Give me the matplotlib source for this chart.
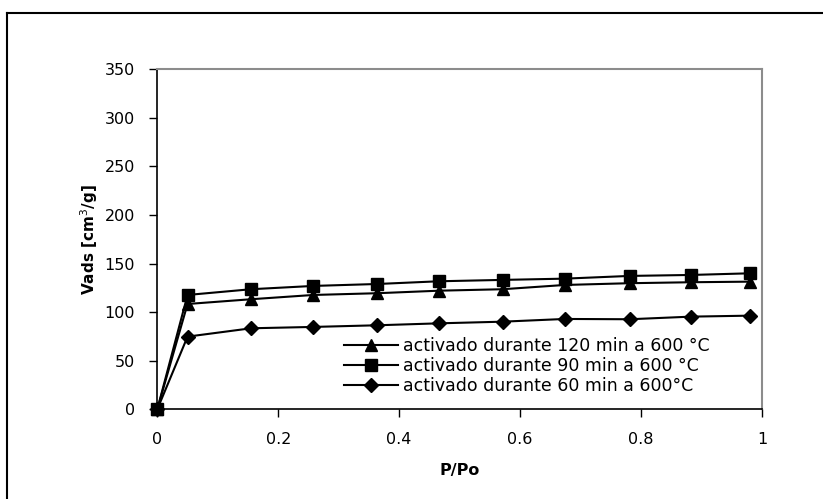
import matplotlib
matplotlib.use("Agg")
import matplotlib.pyplot as plt
from matplotlib.lines import Line2D

plt.rcParams['font.family'] = ['DejaVu Sans']

# Data
p_po = [0, 0.05, 0.155, 0.258, 0.364, 0.466, 0.571, 0.674, 0.781, 0.883, 0.98]
v_120 = [0, 108.4, 113.3, 117.7, 119.5, 122.1, 123.6, 128.0, 129.8, 130.8, 131.4]
v_90 = [0, 117.7, 123.6, 127.0, 129.0, 131.8, 133.2, 134.5, 137.3, 138.3, 140.0]
v_60 = [0, 74.8, 83.4, 84.8, 86.5, 88.5, 90.2, 93.0, 92.7, 95.4, 96.4]
labels = ["activado durante 120 min a 600 °C",
          "activado durante 90 min a 600 °C",
          "activado durante 60 min a 600°C"]
x_ticks = [0, 0.2, 0.4, 0.6, 0.8, 1]
x_tick_labels = ["0", "0.2", "0.4", "0.6", "0.8", "1"]
y_ticks = [0, 50, 100, 150, 200, 250, 300, 350]

W, H = 823, 499
fig = plt.figure(figsize=(W / 100, H / 100), dpi=100)

# outer frame
fig.add_artist(Line2D([7.5 / W, 7.5 / W], [0, 1 - 12.5 / H], color='black', lw=1.5,
                      transform=fig.transFigure))
fig.add_artist(Line2D([7.5 / W, 1], [1 - 12.5 / H, 1 - 12.5 / H], color='black', lw=1.5,
                      transform=fig.transFigure))

left, right, top, bottom = 157.3, 762, 69.3, 409.3
ax = fig.add_axes([left / W, 1 - bottom / H, (right - left) / W, (bottom - top) / H])

ax.plot(p_po, v_120, color='black', lw=1.5, marker='^', ms=9, label=labels[0], clip_on=False, zorder=3)
ax.plot(p_po, v_90, color='black', lw=1.5, marker='s', ms=8.5, label=labels[1], clip_on=False, zorder=3)
ax.plot(p_po, v_60, color='black', lw=1.5, marker='D', ms=7, label=labels[2], clip_on=False, zorder=3)

ax.set_xlim(0, 1)
ax.set_ylim(0, 350)
ax.set_xticks(x_ticks)
ax.set_xticklabels(x_tick_labels)
ax.set_yticks(y_ticks)
ax.tick_params(direction='out', length=6, width=1, labelsize=11.5, colors='black', pad=10)

for s in ['left', 'bottom']:
    ax.spines[s].set_color('black')
    ax.spines[s].set_linewidth(1.2)
for s in ['top', 'right']:
    ax.spines[s].set_color('#8c8c8c')
    ax.spines[s].set_linewidth(1.5)

ax.set_xlabel("P/Po", fontsize=11.5, fontweight='bold', labelpad=12)
ax.set_ylabel("Vads [cm$^3$/g]", fontsize=11, fontweight='bold', labelpad=3)

leg = ax.legend(loc='lower left', bbox_to_anchor=(0.295, 0.017), frameon=False, fontsize=12.5,
                handlelength=3.1, handletextpad=0.3, labelspacing=0.12, borderpad=0)

fig.savefig("out.png", dpi=100)
